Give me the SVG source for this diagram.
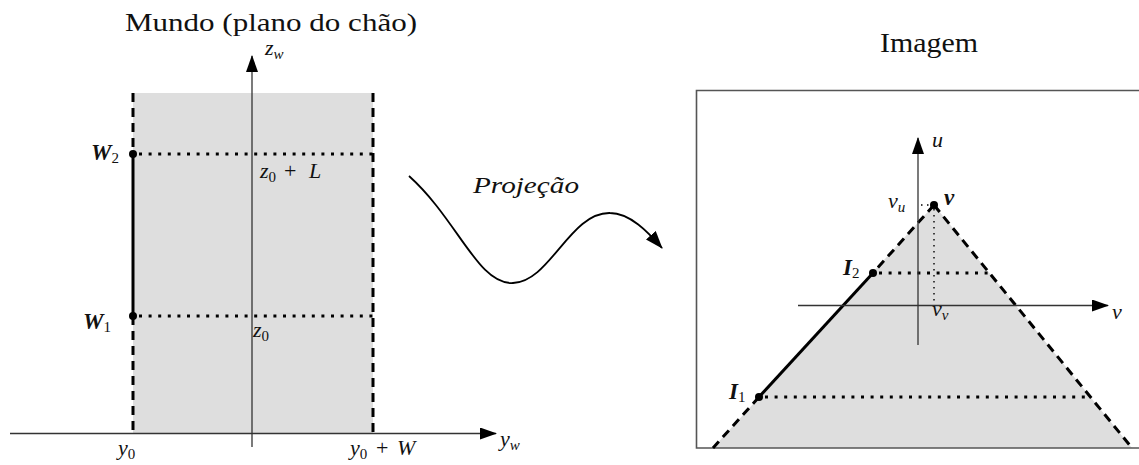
<svg xmlns="http://www.w3.org/2000/svg" width="1139" height="465" viewBox="0 0 1139 465">
<style>
text{fill:#111;font-family:'Liberation Serif','Times New Roman',serif}
.t{font-size:26px}
.m{font-size:22px;font-style:italic}
.b{font-size:23px;font-style:italic;font-weight:bold}
.s{font-size:15px;font-style:normal;font-weight:normal}
.si{font-size:15px;font-style:italic;font-weight:normal}
.up{font-style:normal}
.area{fill:#dedede;stroke:none}
.axis{stroke:#333;stroke-width:1.3;fill:none}
.dash{stroke:#000;stroke-width:3;stroke-dasharray:9 6;fill:none}
.seg{stroke:#000;stroke-width:3;fill:none}
.dot{stroke:#000;stroke-width:3;stroke-dasharray:3 6.6;fill:none}
.fdot{stroke:#000;stroke-width:1.4;stroke-dasharray:1.5 4.5;fill:none}
.pt{fill:#000}
</style>
<defs>
<marker id="arr" viewBox="0 0 17 12" refX="16" refY="6" markerWidth="17" markerHeight="12" markerUnits="userSpaceOnUse" orient="auto">
<path d="M0,0 L17,6 L0,12 Z" fill="#000"/>
</marker>
<marker id="arr2" viewBox="0 0 18 13" refX="17" refY="6.5" markerWidth="18" markerHeight="13" markerUnits="userSpaceOnUse" orient="auto">
<path d="M0,0 L18,6.5 L0,13 Z" fill="#000"/>
</marker>
</defs>

<g id="world">
<text class="t" x="125" y="31" textLength="292" lengthAdjust="spacingAndGlyphs">Mundo (plano do chão)</text>
<rect class="area" x="133" y="93" width="240" height="340"/>
</g>

<g id="world-frame">
<path class="dash" d="M133,93 V154"/>
<path class="dash" d="M133,316 V433"/>
<path class="dash" d="M373,93 V433"/>
<path class="seg" d="M133,154 V316"/>
<path class="dot" d="M139,154 H373"/>
<path class="dot" d="M139,316 H373"/>
</g>

<g id="world-axes">
<path class="axis" d="M252,447 V56" marker-end="url(#arr)"/>
<path class="axis" d="M10,433.5 H496" marker-end="url(#arr)"/>
<text class="m" x="265" y="55">z<tspan class="si" dy="4">w</tspan></text>
<text class="m" x="500" y="446">y<tspan class="si" dy="4">w</tspan></text>
<text class="m" x="118" y="455">y<tspan class="s" dy="4">0</tspan></text>
<text class="m" x="350" y="455">y<tspan class="s" dy="4">0</tspan><tspan class="up" dy="-4" x="376">+</tspan><tspan x="397">W</tspan></text>
<text class="m" x="260" y="178">z<tspan class="s" dy="4">0</tspan><tspan class="up" dy="-4" x="284">+</tspan><tspan x="309">L</tspan></text>
<text class="m" x="253" y="337">z<tspan class="s" dy="4">0</tspan></text>
</g>

<g id="W2">
<circle class="pt" cx="133" cy="154" r="4"/>
<text class="b" x="91" y="160">W<tspan class="s" dy="3">2</tspan></text>
</g>
<g id="W1">
<circle class="pt" cx="133" cy="316" r="4"/>
<text class="b" x="83" y="329">W<tspan class="s" dy="3">1</tspan></text>
</g>

<g id="connectors">
<path d="M409,176 C458,220 478,285 513,283 C550,282 570,212 610,213 C630,213 648,232 662,248" stroke="#000" stroke-width="1.8" fill="none" marker-end="url(#arr2)"/>
<text class="m" x="473" y="193" style="font-size:24px" textLength="106" lengthAdjust="spacingAndGlyphs">Projeção</text>
</g>

<g id="image">
<text class="t" x="880" y="52" style="font-size:28px" textLength="98" lengthAdjust="spacingAndGlyphs">Imagem</text>
<polygon class="area" points="713,448 934,205 1132,448"/>
<path d="M1145,90.5 H696.5 V448 H1145" stroke="#555" stroke-width="1.6" fill="none"/>
<path class="dash" d="M934,205 L873,273"/>
<path class="dash" d="M759,397 L713,448"/>
<path class="dash" d="M934,205 L1132,448"/>
<path class="seg" d="M873,273 L759,397"/>
<path class="dot" d="M879,273 H989"/>
<path class="dot" d="M765,397 H1089"/>
<path class="fdot" d="M934,209 V305"/>
<path class="fdot" d="M921,205 H930"/>
<path class="axis" d="M918,345 V138" marker-end="url(#arr)"/>
<path class="axis" d="M798,305.5 H1108" marker-end="url(#arr)"/>
<text class="m" x="932" y="147">u</text>
<text class="m" x="1112" y="319">v</text>
<text class="m" x="932" y="316">v<tspan class="si" dy="4">v</tspan></text>
<text class="m" x="888" y="208">v<tspan class="si" dy="4">u</tspan></text>
</g>

<g id="v">
<circle class="pt" cx="934" cy="205" r="4"/>
<text class="b" x="944" y="205">v</text>
</g>
<g id="I2">
<circle class="pt" cx="873" cy="273" r="4"/>
<text class="b" x="843" y="275">I<tspan class="s" dy="3">2</tspan></text>
</g>
<g id="I1">
<circle class="pt" cx="759" cy="397" r="4"/>
<text class="b" x="729" y="399">I<tspan class="s" dy="3">1</tspan></text>
</g>
</svg>
